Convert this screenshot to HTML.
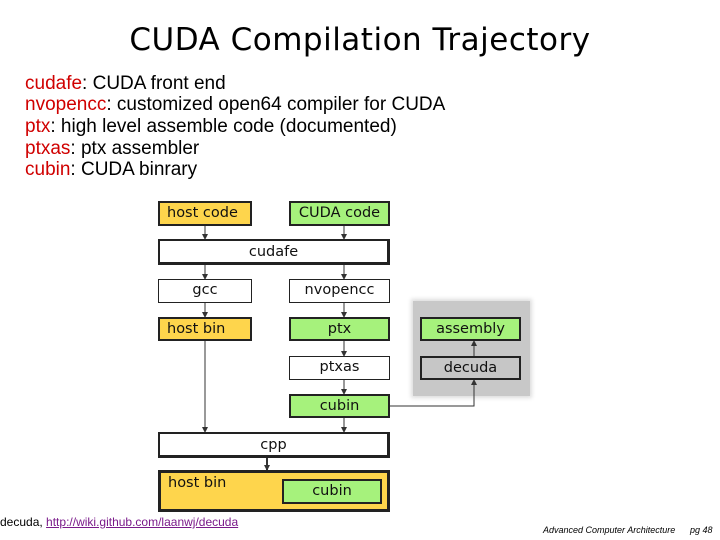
<!DOCTYPE html>
<html><head><meta charset="utf-8"><style>
body{margin:0;width:720px;height:540px;background:#fff;position:relative;overflow:hidden;font-family:"Liberation Sans",sans-serif}
.t{position:absolute;left:0;width:720px;top:22px;text-align:center;font-family:"DejaVu Sans",sans-serif;font-size:31px;color:#000;letter-spacing:0.5px}
.l{position:absolute;left:25px;font-size:19px;color:#000;line-height:21px}
.r{color:#d00000}
.b{position:absolute;box-sizing:border-box;border:2px solid #222;font-family:"DejaVu Sans",sans-serif;font-size:14.5px;text-align:center;color:#111}
.y{background:#fed54c}.g{background:#a6f27c}.w{background:#fff}.gr{background:#c6c6c6}
</style></head><body>
<div class="t">CUDA Compilation Trajectory</div>
<div class="l" style="top:73px"><span class="r">cudafe</span>: CUDA front end</div>
<div class="l" style="top:94px"><span class="r">nvopencc</span>: customized open64 compiler for CUDA</div>
<div class="l" style="top:116px"><span class="r">ptx</span>: high level assemble code (documented)</div>
<div class="l" style="top:138px"><span class="r">ptxas</span>: ptx assembler</div>
<div class="l" style="top:159px"><span class="r">cubin</span>: CUDA binrary</div>

<div style="position:absolute;left:413px;top:301px;width:117px;height:95px;background:#c8c8c8;box-shadow:0 0 4px 2px #ddd"></div>
<svg style="position:absolute;left:0;top:0" width="720" height="540">
<defs><marker id="a" markerUnits="userSpaceOnUse" markerWidth="6" markerHeight="6" refX="5" refY="3" orient="auto"><path d="M0,0 L6,3 L0,6z" fill="#333"/></marker></defs>
<g stroke="#333" stroke-width="1" fill="none" marker-end="url(#a)">
<line x1="205" y1="225" x2="205" y2="239"/><line x1="344" y1="225" x2="344" y2="239"/>
<line x1="205" y1="264" x2="205" y2="279"/><line x1="344" y1="264" x2="344" y2="279"/>
<line x1="205" y1="302" x2="205" y2="317"/><line x1="344" y1="302" x2="344" y2="317"/>
<line x1="344" y1="341" x2="344" y2="356"/><line x1="344" y1="379" x2="344" y2="394"/>
<line x1="205" y1="340" x2="205" y2="432"/><line x1="344" y1="418" x2="344" y2="432"/>
<line x1="267" y1="457" x2="267" y2="470" stroke-width="2"/>
<polyline points="390,406 474,406 474,380"/><line x1="474" y1="356" x2="474" y2="341"/>
</g></svg>
<div class="b y" style="left:158px;top:201px;width:94px;height:25px;line-height:21px;text-align:left;padding-left:7px">host code</div>
<div class="b g" style="left:289px;top:201px;width:101px;height:25px;line-height:21px">CUDA code</div>
<div class="b w" style="left:158px;top:239px;width:232px;height:26px;line-height:22px;border-width:2px 3px 3px 2px">cudafe</div>
<div class="b w" style="left:158px;top:279px;width:94px;height:24px;line-height:20px;border-width:1px">gcc</div>
<div class="b w" style="left:289px;top:279px;width:101px;height:24px;line-height:20px;border-width:1px">nvopencc</div>
<div class="b y" style="left:158px;top:317px;width:94px;height:24px;line-height:20px;text-align:left;padding-left:7px">host bin</div>
<div class="b g" style="left:289px;top:317px;width:101px;height:24px;line-height:20px">ptx</div>
<div class="b w" style="left:289px;top:356px;width:101px;height:24px;line-height:20px;border-width:1px">ptxas</div>
<div class="b g" style="left:289px;top:394px;width:101px;height:24px;line-height:20px">cubin</div>
<div class="b g" style="left:420px;top:317px;width:101px;height:24px;line-height:20px">assembly</div>
<div class="b gr" style="left:420px;top:356px;width:101px;height:24px;line-height:20px">decuda</div>
<div class="b w" style="left:158px;top:432px;width:232px;height:26px;line-height:22px;border-width:2px 3px 3px 2px">cpp</div>
<div class="b y" style="left:158px;top:470px;width:232px;height:42px;border-width:3px;text-align:left;padding-left:7px;line-height:20px">host bin</div>
<div class="b g" style="left:282px;top:479px;width:100px;height:25px;line-height:21px">cubin</div>

<div style="position:absolute;left:0;top:515px;font-size:12px;color:#000">decuda, <span style="color:#7a1a8a;text-decoration:underline">http://wiki.github.com/laanwj/decuda</span></div>
<div style="position:absolute;left:543px;top:525px;font-size:9px;font-style:italic">Advanced Computer Architecture</div>
<div style="position:absolute;left:690px;top:525px;font-size:9px;font-style:italic">pg 48</div>
</body></html>
